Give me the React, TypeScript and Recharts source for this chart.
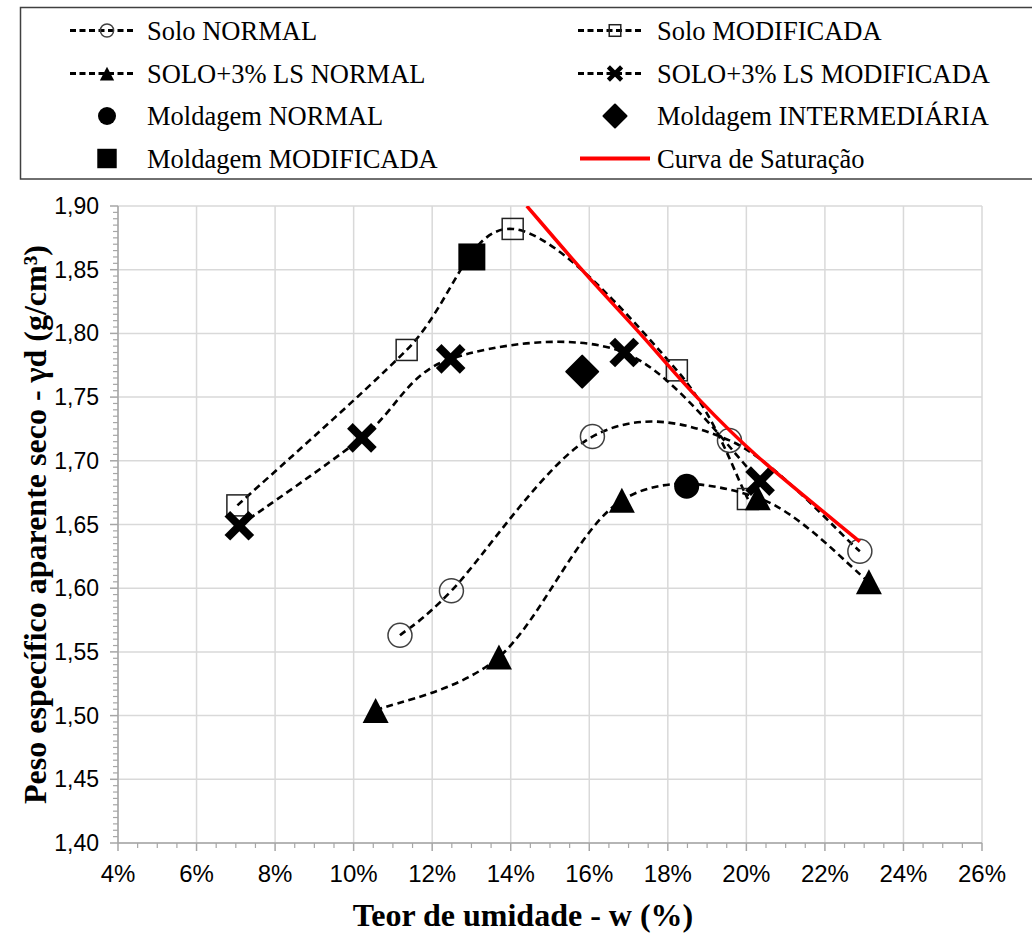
import React from "react";
import { ScatterChart, Scatter, XAxis, YAxis, CartesianGrid } from "recharts";

// Teor de umidade w (%) x peso específico aparente seco γd (g/cm³)
const soloNormalW = [11.18, 12.49, 16.08, 19.57, 22.89];
const soloNormalGd = [1.563, 1.598, 1.719, 1.716, 1.629];

const soloModW = [7.04, 11.35, 14.05, 18.23, 20.04];
const soloModGd = [1.665, 1.787, 1.882, 1.771, 1.67];

const lsNormalW = [10.56, 13.7, 16.83, 20.29, 23.12];
const lsNormalGd = [1.504, 1.546, 1.669, 1.671, 1.605];

const lsModW = [7.09, 10.21, 12.47, 16.89, 20.35];
const lsModGd = [1.649, 1.718, 1.78, 1.785, 1.684];

const moldNormalW = [18.48];
const moldNormalGd = [1.68];
const moldInterW = [15.82];
const moldInterGd = [1.77];
const moldModW = [13.01];
const moldModGd = [1.86];

const saturationW = [14.41, 15.81, 17.29, 18.74, 20.3, 22.89];
const saturationGd = [1.9, 1.85, 1.8, 1.75, 1.703, 1.6365];

const xTicks = [4, 6, 8, 10, 12, 14, 16, 18, 20, 22, 24, 26];
const yTicks = [1.4, 1.45, 1.5, 1.55, 1.6, 1.65, 1.7, 1.75, 1.8, 1.85, 1.9];

// all tick marks, minor ones every 0.5 % and 0.005 g/cm³
const xAllTicks = Array.from({ length: 45 }, (_, i) => 4 + i * 0.5);
const yAllTicks = Array.from({ length: 101 }, (_, i) => +(1.4 + i * 0.005).toFixed(3));

const SERIF = "'Liberation Serif', 'Times New Roman', serif";
const SANS = "'Liberation Sans', Arial, sans-serif";
const DASH = "7 4.5";
const AXIS_GREY = "#a6a6a6";

const toPoints = (w: number[], gd: number[]) => w.map((x, i) => ({ x, y: gd[i] }));
const isMajor = (list: number[], v: number) => list.some((t) => Math.abs(t - v) < 1e-6);

// Excel-like smoothed line (Catmull-Rom, 1/6 tangents)
const excelSmooth = (context: any) => {
  let pts: number[][] = [];
  return {
    areaStart() {},
    areaEnd() {},
    lineStart() {
      pts = [];
    },
    point(x: number, y: number) {
      pts.push([+x, +y]);
    },
    lineEnd() {
      const n = pts.length;
      if (!n) return;
      context.moveTo(pts[0][0], pts[0][1]);
      for (let i = 0; i < n - 1; i++) {
        const p0 = pts[Math.max(i - 1, 0)];
        const p1 = pts[i];
        const p2 = pts[i + 1];
        const p3 = pts[Math.min(i + 2, n - 1)];
        context.bezierCurveTo(
          p1[0] + (p2[0] - p0[0]) / 6,
          p1[1] + (p2[1] - p0[1]) / 6,
          p2[0] - (p3[0] - p1[0]) / 6,
          p2[1] - (p3[1] - p1[1]) / 6,
          p2[0],
          p2[1]
        );
      }
    },
  };
};

const XTick = (p: any) => {
  const v = p.payload.value;
  const major = isMajor(xTicks, v);
  return (
    <g>
      <line x1={p.x} x2={p.x} y1={p.y} y2={p.y + (major ? 8 : 5)} stroke={AXIS_GREY} strokeWidth={major ? 1.5 : 1.2} />
      {major && (
        <text x={p.x} y={p.y + 39} textAnchor="middle" fontFamily={SANS} fontSize={24} fill="#000">
          {`${v}%`}
        </text>
      )}
    </g>
  );
};

const YTick = (p: any) => {
  const v = p.payload.value;
  const major = isMajor(yTicks, v);
  return (
    <g>
      <line x1={p.x} x2={p.x - (major ? 8 : 5)} y1={p.y} y2={p.y} stroke={AXIS_GREY} strokeWidth={major ? 1.5 : 1.2} />
      {major && (
        <text x={p.x - 19} y={p.y + 8} textAnchor="end" fontFamily={SANS} fontSize={23} fill="#000">
          {v.toFixed(2).replace(".", ",")}
        </text>
      )}
    </g>
  );
};

type Kind = "openCircle" | "openSquare" | "triangle" | "cross" | "dot" | "diamond" | "square" | "none";

const Marker = ({ kind, cx, cy, s = 1 }: { kind: Kind; cx: number; cy: number; s?: number }) => {
  switch (kind) {
    case "openCircle":
      return <circle cx={cx} cy={cy} r={12 * s} fill="none" stroke="#404040" strokeWidth={1.5} />;
    case "openSquare":
      return <rect x={cx - 10.5 * s} y={cy - 10.5 * s} width={21 * s} height={21 * s} fill="none" stroke="#222" strokeWidth={1.5} />;
    case "triangle":
      return (
        <polygon
          points={`${cx},${cy - 12.5 * s} ${cx - 13 * s},${cy + 12.5 * s} ${cx + 13 * s},${cy + 12.5 * s}`}
          fill="#000"
        />
      );
    case "cross":
      return (
        <g stroke="#000" strokeWidth={8 * s}>
          <line x1={cx - 12 * s} y1={cy - 12 * s} x2={cx + 12 * s} y2={cy + 12 * s} />
          <line x1={cx - 12 * s} y1={cy + 12 * s} x2={cx + 12 * s} y2={cy - 12 * s} />
        </g>
      );
    case "dot":
      return <circle cx={cx} cy={cy} r={12.5 * s} fill="#000" />;
    case "diamond":
      return (
        <polygon
          points={`${cx},${cy - 16 * s} ${cx + 16 * s},${cy} ${cx},${cy + 16 * s} ${cx - 16 * s},${cy}`}
          fill="#000"
          stroke="#000"
          strokeWidth={2}
          strokeLinejoin="round"
        />
      );
    case "square":
      return <rect x={cx - 13.5 * s} y={cy - 13.5 * s} width={27 * s} height={27 * s} fill="#000" />;
    default:
      return <g />;
  }
};

const shapeOf = (kind: Kind) => (p: any) => <Marker kind={kind} cx={p.cx} cy={p.cy} />;

const dashedLine = { stroke: "#000", strokeWidth: 2.6, strokeDasharray: DASH };

const legendLeft: { label: string; kind: Kind; dashed: boolean }[] = [
  { label: "Solo NORMAL", kind: "openCircle", dashed: true },
  { label: "SOLO+3% LS NORMAL", kind: "triangle", dashed: true },
  { label: "Moldagem NORMAL", kind: "dot", dashed: false },
  { label: "Moldagem MODIFICADA", kind: "square", dashed: false },
];
const legendRight: { label: string; kind: Kind; dashed: boolean }[] = [
  { label: "Solo MODIFICADA", kind: "openSquare", dashed: true },
  { label: "SOLO+3% LS MODIFICADA", kind: "cross", dashed: true },
  { label: "Moldagem INTERMEDIÁRIA", kind: "diamond", dashed: false },
  { label: "Curva de Saturação", kind: "none", dashed: false },
];
const rowBaselines = [39.5, 82.5, 125, 167.5];

const LegendBox = () => {
  const renderItem = (item: { label: string; kind: Kind; dashed: boolean }, i: number, iconX: number, textX: number) => {
    const cy = rowBaselines[i] - 9;
    return (
      <g key={item.label}>
        {item.dashed && (
          <line x1={iconX - 37} y1={cy} x2={iconX + 29} y2={cy} stroke="#000" strokeWidth={2.8} strokeDasharray="6 3.5" />
        )}
        {item.kind === "none" ? (
          <line x1={iconX - 35} y1={cy} x2={iconX + 35} y2={cy} stroke="#ff0000" strokeWidth={4} />
        ) : (
          <Marker kind={item.kind} cx={iconX} cy={cy} s={item.dashed ? 0.55 : 0.72} />
        )}
        <text x={textX} y={rowBaselines[i]} fontFamily={SERIF} fontSize={26.5} fill="#000">
          {item.label}
        </text>
      </g>
    );
  };
  return (
    <svg width={1032} height={182} style={{ position: "absolute", left: 0, top: 0 }}>
      <rect x={20.5} y={7.5} width={1040} height={171.5} fill="none" stroke="#404040" strokeWidth={1.5} />
      {legendLeft.map((it, i) => renderItem(it, i, 107, 147))}
      {legendRight.map((it, i) => renderItem(it, i, 615, 657))}
    </svg>
  );
};

export default function App() {
  return (
    <div
      style={{
        position: "absolute",
        left: 0,
        top: 0,
        width: 1032,
        height: 934,
        background: "#fff",
        overflow: "hidden",
      }}
    >
      <ScatterChart width={1032} height={934} margin={{ top: 206, right: 50, bottom: 0, left: 0 }}>
        <CartesianGrid stroke="#d9d9d9" strokeWidth={1.5} horizontalValues={yTicks} verticalValues={xTicks} />
        <XAxis
          type="number"
          dataKey="x"
          domain={[4, 26]}
          allowDataOverflow
          ticks={xAllTicks}
          interval={0}
          tick={<XTick />}
          tickSize={0}
          tickMargin={0}
          tickLine={false}
          height={91}
          axisLine={{ stroke: AXIS_GREY, strokeWidth: 1.5 }}
          label={{
            value: "Teor de umidade - w (%)",
            position: "insideBottom",
            offset: 8,
            dx: -27,
            style: { fontFamily: SERIF, fontWeight: 700, fontSize: 32, fill: "#000" },
          }}
        />
        <YAxis
          type="number"
          dataKey="y"
          domain={[1.4, 1.9]}
          allowDataOverflow
          ticks={yAllTicks}
          interval={0}
          tick={<YTick />}
          tickSize={0}
          tickMargin={0}
          tickLine={false}
          width={118}
          axisLine={{ stroke: AXIS_GREY, strokeWidth: 1.5 }}
          label={{
            value: "Peso específico aparente seco  - γd (g/cm³)",
            angle: -90,
            position: "insideLeft",
            offset: 35,
            style: {
              fontFamily: SERIF,
              fontWeight: 700,
              fontSize: 32,
              fill: "#000",
              textAnchor: "middle",
              whiteSpace: "pre",
            },
          }}
        />
        <Scatter
          name="Solo NORMAL"
          data={toPoints(soloNormalW, soloNormalGd)}
          fill="#000"
          line={dashedLine}
          lineJointType={excelSmooth as any}
          shape={shapeOf("openCircle")}
          isAnimationActive={false}
        />
        <Scatter
          name="Solo MODIFICADA"
          data={toPoints(soloModW, soloModGd)}
          fill="#000"
          line={dashedLine}
          lineJointType={excelSmooth as any}
          shape={shapeOf("openSquare")}
          isAnimationActive={false}
        />
        <Scatter
          name="SOLO+3% LS NORMAL"
          data={toPoints(lsNormalW, lsNormalGd)}
          fill="#000"
          line={dashedLine}
          lineJointType={excelSmooth as any}
          shape={shapeOf("triangle")}
          isAnimationActive={false}
        />
        <Scatter
          name="SOLO+3% LS MODIFICADA"
          data={toPoints(lsModW, lsModGd)}
          fill="#000"
          line={dashedLine}
          lineJointType={excelSmooth as any}
          shape={shapeOf("cross")}
          isAnimationActive={false}
        />
        <Scatter
          name="Moldagem NORMAL"
          data={toPoints(moldNormalW, moldNormalGd)}
          fill="#000"
          shape={shapeOf("dot")}
          isAnimationActive={false}
        />
        <Scatter
          name="Moldagem INTERMEDIÁRIA"
          data={toPoints(moldInterW, moldInterGd)}
          fill="#000"
          shape={shapeOf("diamond")}
          isAnimationActive={false}
        />
        <Scatter
          name="Moldagem MODIFICADA"
          data={toPoints(moldModW, moldModGd)}
          fill="#000"
          shape={shapeOf("square")}
          isAnimationActive={false}
        />
        <Scatter
          name="Curva de Saturação"
          data={toPoints(saturationW, saturationGd)}
          fill="#ff0000"
          line={{ stroke: "#ff0000", strokeWidth: 3.5 }}
          lineJointType={excelSmooth as any}
          shape={shapeOf("none")}
          isAnimationActive={false}
        />
      </ScatterChart>
      <LegendBox />
    </div>
  );
}
